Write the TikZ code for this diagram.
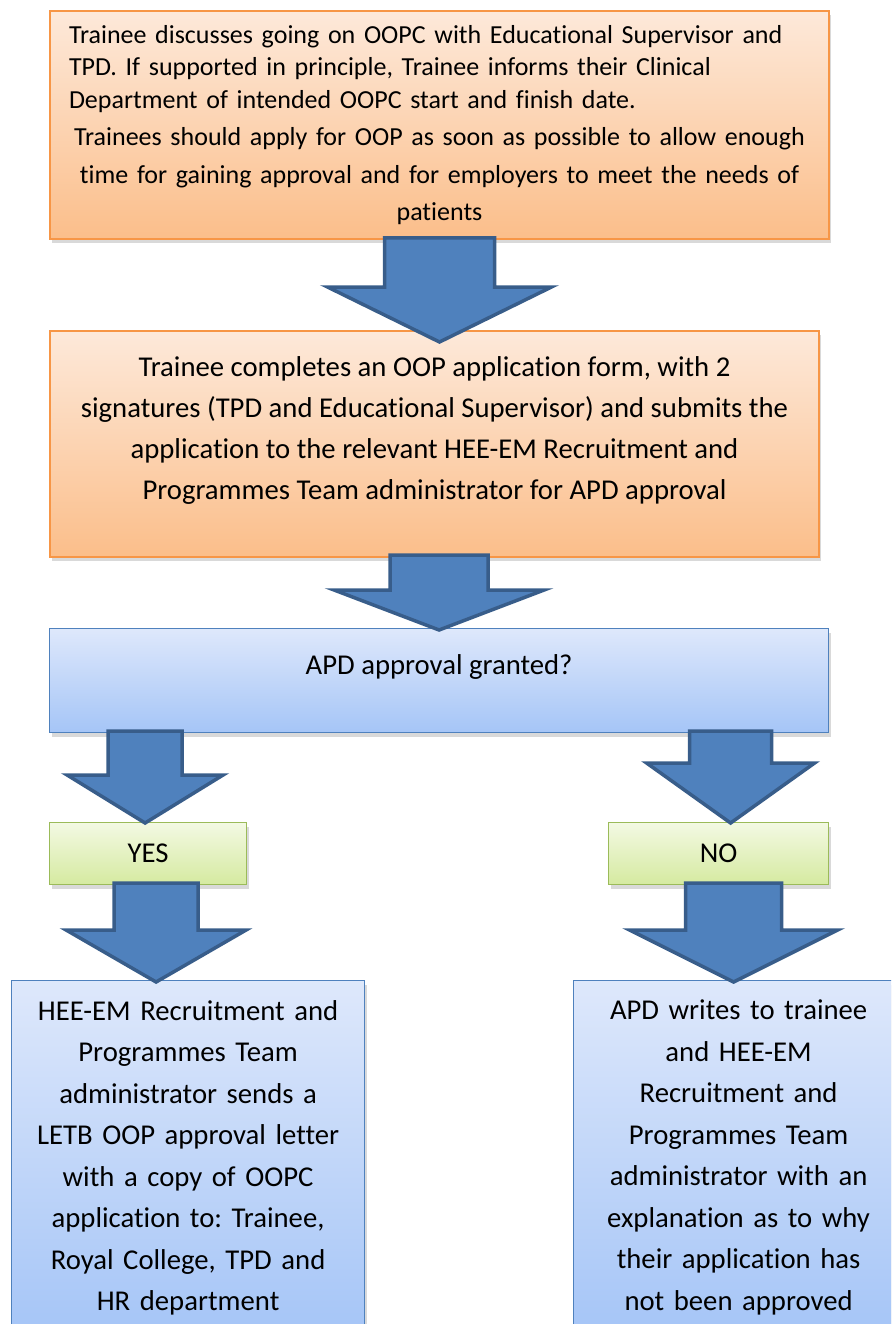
\documentclass[tikz,border=0pt]{standalone}
\usepackage{fontspec}
\setmainfont{Carlito}[Ligatures=NoCommon]
\usetikzlibrary{calc,shadows}
\definecolor{orangeline}{HTML}{F79646}
\definecolor{orangetop}{HTML}{FDE9DA}
\definecolor{orangebot}{HTML}{FBBE8A}
\definecolor{blueline}{HTML}{4F81BD}
\definecolor{bluetop}{HTML}{DEE8FB}
\definecolor{bluebot}{HTML}{A5C5F7}
\definecolor{greenline}{HTML}{9BBB59}
\definecolor{greentop}{HTML}{F3F9E3}
\definecolor{greenbot}{HTML}{D5EAA0}
\definecolor{arrowfill}{HTML}{4F81BD}
\definecolor{arrowline}{HTML}{385D8A}
\tikzset{
  flowbox/.style={rectangle, anchor=north west, inner sep=0pt, align=center,
    drop shadow={shadow xshift=2pt, shadow yshift=-4pt, opacity=0.3}},
  orangebox/.style={flowbox, draw=orangeline, line width=2pt, top color=orangetop, bottom color=orangebot},
  bluebox/.style={flowbox, draw=blueline, line width=1.2pt, top color=bluetop, bottom color=bluebot},
  greenbox/.style={flowbox, draw=greenline, line width=1.2pt, top color=greentop, bottom color=greenbot},
  bigarrow/.style={draw=arrowline, fill=arrowfill, line width=3.5pt, line join=miter},
  flowtext/.style={font=\fontsize{28.7}{41.5}\selectfont}
}
% block arrow: top point, tip point, shaft half width, head half width, head length
\newcommand{\bigarrow}[5]{%
  \draw[bigarrow] let \p1=#1, \p2=#2 in
    (\x2-#3,\y1) -- (\x2-#3,\y2+#5) -- (\x2-#4,\y2+#5) -- (\p2)
    -- (\x2+#4,\y2+#5) -- (\x2+#3,\y2+#5) -- (\x2+#3,\y1) -- cycle;}
\frenchspacing
\begin{document}
\begin{tikzpicture}[x=1pt,y=1pt]
  \useasboundingbox (0,0) rectangle (891,-1324);
  \clip (0,0) rectangle (891,-1324);

  \node[orangebox, minimum width=779, minimum height=228, text width=770,
    font=\fontsize{26}{32.5}\selectfont] (discuss) at (49,-10)
    {{\raggedright\leftskip=14.5pt Trainee discusses going on OOPC with Educational Supervisor and\\
     TPD. If supported in principle, Trainee informs their Clinical\\
     Department of intended OOPC start and finish date.\par}
     {\fontsize{26}{37.5}\selectfont\centering
     Trainees should apply for OOP as soon as possible to allow enough\\
     time for gaining approval and for employers to meet the needs of\\
     patients\par}};

  \node[orangebox, minimum width=769, minimum height=226] (apply) at (49,-330)
    {\parbox[t][174pt][t]{760pt}{\fontsize{28.7}{40.7}\selectfont\centering
     Trainee completes an OOP application form, with 2\\
     signatures (TPD and Educational Supervisor) and submits the\\
     application to the relevant HEE-EM Recruitment and\\
     Programmes Team administrator for APD approval}};

  \node[bluebox, minimum width=779, minimum height=104] (decision) at (49,-628)
    {\parbox[t][52pt][t]{740pt}{\fontsize{28.7}{40.7}\selectfont\centering APD approval granted?}};

  \node[greenbox, flowtext, minimum width=197, minimum height=62] (yes) at (49,-822) {YES};
  \node[greenbox, flowtext, minimum width=220, minimum height=62] (no) at (608,-822) {NO};

  \node[bluebox, flowtext, minimum width=353, minimum height=354, text width=340] (approved) at (11,-980)
    {HEE-EM Recruitment and\\ Programmes Team\\ administrator sends a\\ LETB OOP approval letter\\
     with a copy of OOPC\\ application to: Trainee,\\ Royal College, TPD and\\ HR department};
  \node[bluebox, flowtext, minimum width=330, minimum height=354, text width=320] (rejected) at (573,-980)
    {APD writes to trainee\\ and HEE-EM\\ Recruitment and\\ Programmes Team\\
     administrator with an\\ explanation as to why\\ their application has\\ not been approved};

  \bigarrow{($(discuss.south)+(0,2)$)}{($(apply.north)+(5,-12)$)}{55pt}{112pt}{55pt}
  \bigarrow{($(apply.south)+(0,3)$)}{($(decision.north)+(0,-2)$)}{49pt}{105pt}{40pt}
  \bigarrow{($(decision.south west)+(95,2)$)}{($(yes.north)+(-3,-1)$)}{37pt}{78pt}{48pt}
  \bigarrow{($(decision.south east)+(-98,2)$)}{($(no.north)+(12,-1)$)}{41pt}{84pt}{60pt}
  \bigarrow{($(yes.south)+(0,2)$)}{($(approved.north)+(-32,-2)$)}{42pt}{90pt}{52pt}
  \bigarrow{($(no.south)+(0,2)$)}{($(rejected.north)+(-5,-2)$)}{48pt}{104pt}{52pt}
\end{tikzpicture}
\end{document}
